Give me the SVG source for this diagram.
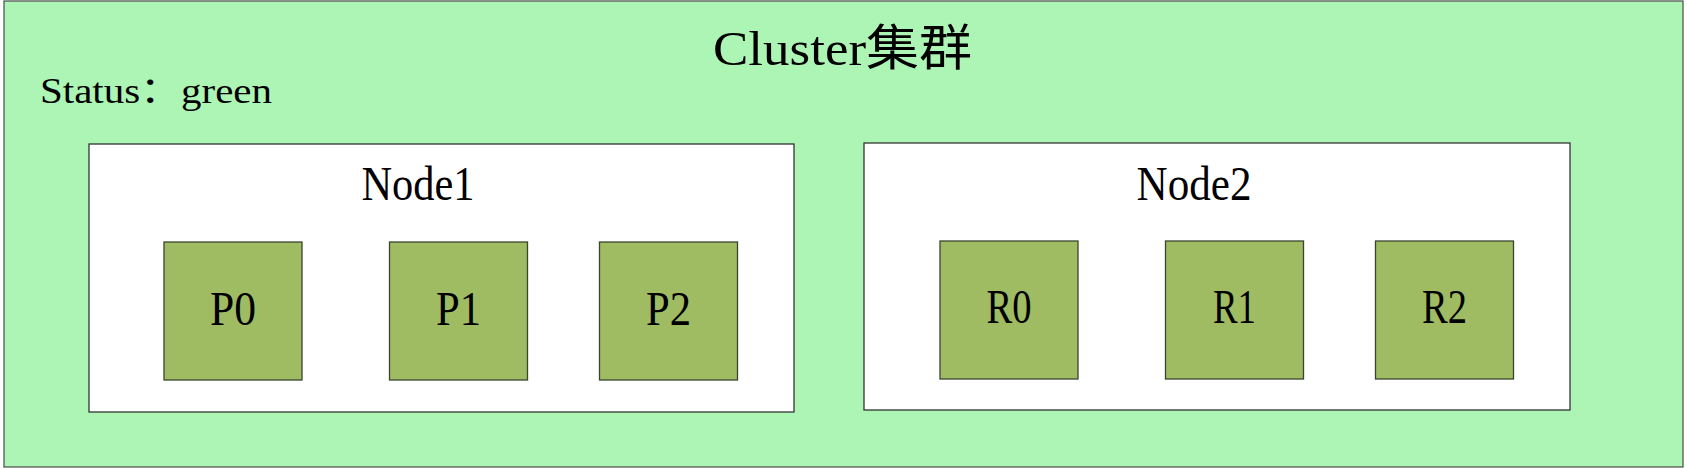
<svg xmlns="http://www.w3.org/2000/svg" width="1687" height="468" viewBox="0 0 1687 468">
<style>
.cluster{fill:#ADF5B5;stroke:#555;stroke-width:1.3}
.node{fill:#FFFFFF;stroke:#333;stroke-width:1.3}
.shard{fill:#9FBC62;stroke:#3a4530;stroke-width:1.3}
.t{font-family:"Liberation Serif","Noto Sans CJK SC",serif;fill:#000}
.big{font-size:49px}
.mid{font-size:36px}
.c{text-anchor:middle}
</style>
<g id="cluster">
<rect class="cluster" x="4" y="1" width="1679" height="466"/>
<text class="t big" x="713" y="65" textLength="259" lengthAdjust="spacingAndGlyphs">Cluster集群</text>
<text class="t mid" x="40" y="103" textLength="232" lengthAdjust="spacingAndGlyphs">Status：green</text>
</g>
<g id="node1">
<rect class="node" x="89" y="144" width="705" height="268"/>
<text class="t big" x="361.5" y="200" textLength="113" lengthAdjust="spacingAndGlyphs">Node1</text>
</g>
<g id="node2">
<rect class="node" x="864" y="143" width="706" height="267"/>
<text class="t big" x="1136.5" y="200" textLength="115" lengthAdjust="spacingAndGlyphs">Node2</text>
</g>
<g id="P0">
<rect class="shard" x="164" y="242" width="138" height="138"/>
<text class="t big c" x="233" y="325" textLength="46" lengthAdjust="spacingAndGlyphs">P0</text>
</g>
<g id="P1">
<rect class="shard" x="389.5" y="242" width="138" height="138"/>
<text class="t big c" x="458.5" y="325" textLength="45" lengthAdjust="spacingAndGlyphs">P1</text>
</g>
<g id="P2">
<rect class="shard" x="599.5" y="242" width="138" height="138"/>
<text class="t big c" x="668.5" y="325" textLength="45" lengthAdjust="spacingAndGlyphs">P2</text>
</g>
<g id="R0">
<rect class="shard" x="940" y="241" width="138" height="138"/>
<text class="t big c" x="1009" y="323" textLength="45" lengthAdjust="spacingAndGlyphs">R0</text>
</g>
<g id="R1">
<rect class="shard" x="1165.5" y="241" width="138" height="138"/>
<text class="t big c" x="1234.5" y="323" textLength="43" lengthAdjust="spacingAndGlyphs">R1</text>
</g>
<g id="R2">
<rect class="shard" x="1375.5" y="241" width="138" height="138"/>
<text class="t big c" x="1444.5" y="323" textLength="45" lengthAdjust="spacingAndGlyphs">R2</text>
</g>
<g id="connectors"/>
</svg>
